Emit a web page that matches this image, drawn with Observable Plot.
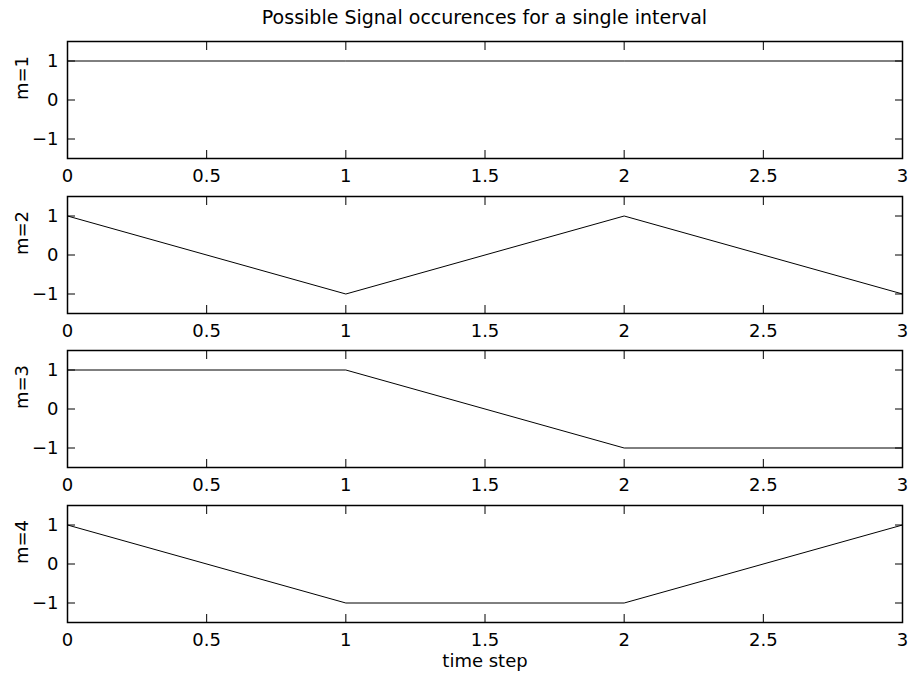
<!DOCTYPE html>
<html>
<head>
<meta charset="utf-8">
<script src="https://cdn.jsdelivr.net/npm/d3@7"></script>
<script src="https://cdn.jsdelivr.net/npm/@observablehq/plot@0.6"></script>
<style>
  html, body { margin: 0; padding: 0; background: white; }
  #wrap { position: relative; width: 911px; height: 677px; overflow: hidden; font-family: "DejaVu Sans", sans-serif; }
  #title { position: absolute; left: 67px; width: 835px; top: 8px; text-align: center; font-size: 19px; line-height: 19px; color: black; }
  .panel { position: absolute; left: 0; }
</style>
</head>
<body>
<div id="wrap">
  <div id="title">Possible Signal occurences for a single interval</div>
</div>
<script>
const timeSteps = [0, 1, 2, 3];
const m1 = [1, 1, 1, 1];
const m2 = [1, -1, 1, -1];
const m3 = [1, 1, -1, -1];
const m4 = [1, -1, -1, 1];
const seriesNames = ["m=1", "m=2", "m=3", "m=4"];
const seriesValues = [m1, m2, m3, m4];
const xTicks = [0, 0.5, 1, 1.5, 2, 2.5, 3];
const yTicks = [-1, 0, 1];
const xLabel = "time step";

const frameTops = [41, 195.67, 350.33, 505];
const wrap = document.getElementById("wrap");

seriesValues.forEach((vals, i) => {
  const data = timeSteps.map((t, j) => ({t, v: vals[j]}));
  const last = i === seriesValues.length - 1;
  const mt = 10, mb = last ? 56 : 30;
  const marks = [
    Plot.line(data, {x: "t", y: "v", stroke: "black", strokeWidth: 1}),
    Plot.axisX(xTicks, {anchor: "bottom", tickSize: -8, tickFormat: () => "", label: null}),
    Plot.axisX(xTicks, {anchor: "top", tickSize: -8, tickFormat: () => "", label: null}),
    Plot.axisX(xTicks, {anchor: "bottom", tickSize: 0, tickPadding: 11, tickFormat: d3.format(""), label: null}),
    Plot.axisY(yTicks, {anchor: "left", tickSize: -8, tickFormat: () => "", label: null}),
    Plot.axisY(yTicks, {anchor: "right", tickSize: -8, tickFormat: () => "", label: null}),
    Plot.axisY(yTicks, {anchor: "left", tickSize: 0, tickPadding: 9, label: null}),
    Plot.frame({stroke: "black", strokeWidth: 1.5}),
    Plot.text([seriesNames[i]], {frameAnchor: "left", dx: -45, rotate: -90, fill: "black"})
  ];
  if (last) marks.push(Plot.text([xLabel], {frameAnchor: "bottom", dy: 44, fill: "black"}));
  const chart = Plot.plot({
    width: 911,
    height: mt + 117 + mb,
    marginLeft: 67,
    marginRight: 9,
    marginTop: mt,
    marginBottom: mb,
    style: {fontFamily: "DejaVu Sans", fontSize: "18px", background: "transparent", overflow: "visible", color: "black"},
    x: {domain: [0, 3], axis: null},
    y: {domain: [-1.5, 1.5], axis: null},
    marks
  });
  chart.classList.add("panel");
  chart.style.top = (frameTops[i] - mt) + "px";
  chart.style.position = "absolute";
  wrap.appendChild(chart);
});
</script>
</body>
</html>
